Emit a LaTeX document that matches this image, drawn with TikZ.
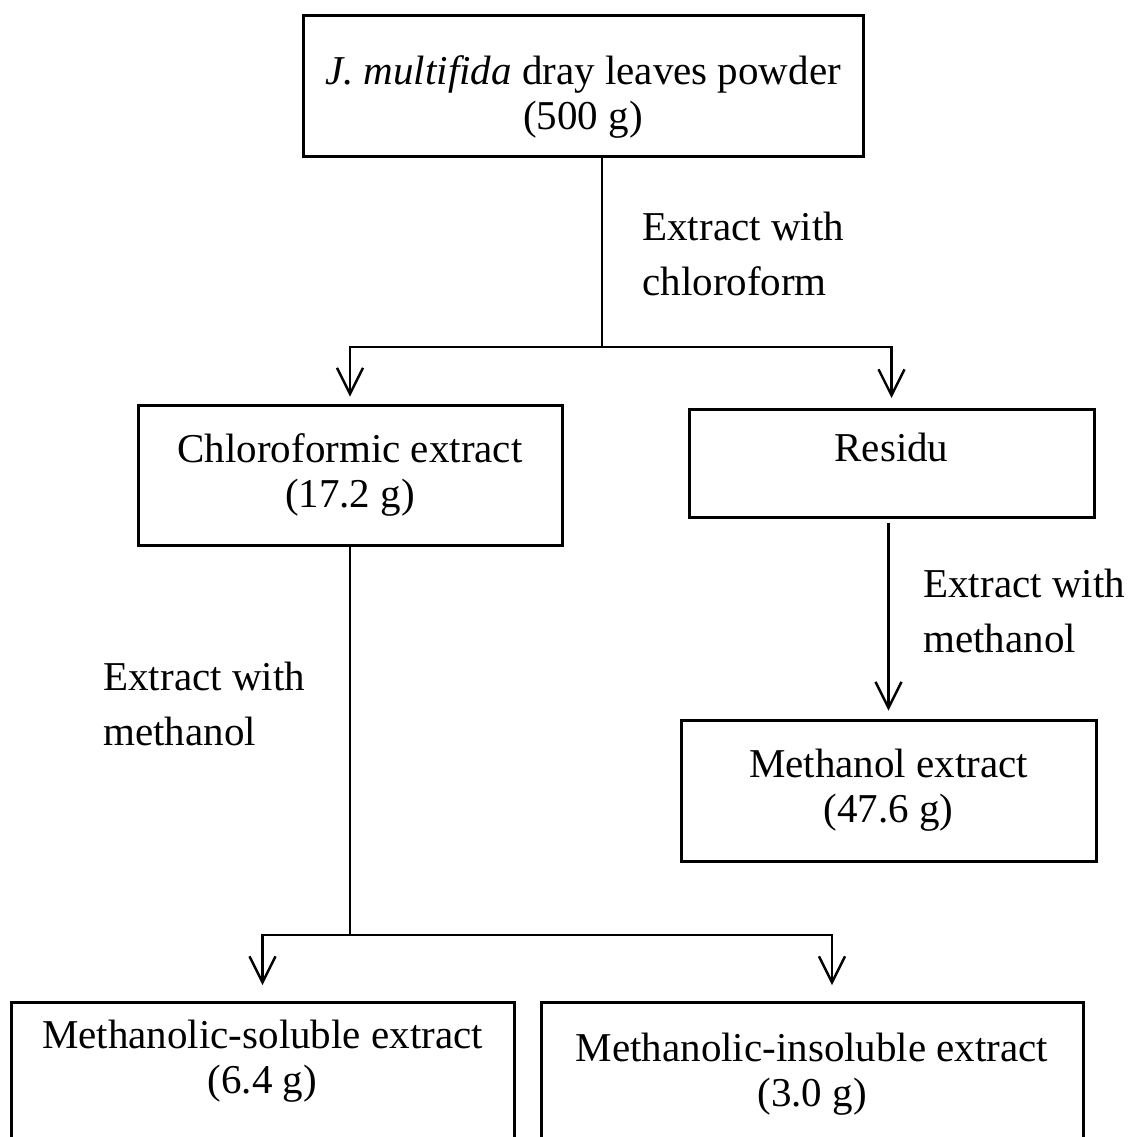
\documentclass[tikz,border=0pt]{standalone}
\usepackage{fontspec}
\setmainfont{Liberation Serif}
\usetikzlibrary{arrows.meta,positioning}

\begin{document}
\begin{tikzpicture}[x=0.5pt,y=-0.5pt,
  >={Straight Barb[length=13pt,width=13pt]},
  box/.style={draw,line width=1.5pt,align=center,inner sep=0pt,font=\fontsize{20.5}{22.5}\selectfont},
  txt/.style={align=center,inner sep=0pt,font=\fontsize{20.5}{22.5}\selectfont},
  lbl/.style={anchor=north west,align=left,inner sep=0pt,font=\fontsize{20.5}{27.5}\selectfont},
  conn/.style={line width=1.2pt}]
\useasboundingbox (0,0) rectangle (1132,1137);

\node[box,minimum width=280pt,minimum height=70.5pt] (powder) at (583,85.5) {};
\node[txt] (powdertxt) at (583,97) {\textit{J. multifida} dray leaves powder\\(500 g)};
\node[box,minimum width=212pt,minimum height=70pt] (chloro) at (350,475) {Chloroformic extract\\(17.2 g)};
\node[box,anchor=north,minimum width=202.5pt,text height=26pt,text depth=28pt] (residu) at (891.5,408) {Residu};
\node[box,minimum width=207.5pt,minimum height=70.5pt] (methext) at (888.5,790.5) {Methanol extract\\(47.6 g)};
\node[box,anchor=north,minimum width=251.5pt,minimum height=100pt] (soluble) at (262.5,1001) {};
\node[txt] (solubletxt) at (262.5,1061) {Methanolic-soluble extract\\(6.4 g)};
\node[box,anchor=north,minimum width=271pt,minimum height=100pt] (insoluble) at (812,1001) {};
\node[txt] (insolubletxt) at (812,1074) {Methanolic-insoluble extract\\(3.0 g)};

\node[lbl] (chlorolbl) at (642,212) {Extract with\\chloroform};
\node[lbl] (residulbl) at (923,569) {Extract with\\methanol};
\node[lbl] (chlorolbl2) at (103,662) {Extract with\\methanol};

\coordinate (split1) at (602,347);
\coordinate (split2) at (350,935);

\draw[conn] (split1 |- powder.south) -- (split1);
\draw[conn,->] (split1) -| ([yshift=3.5pt]chloro.north);
\draw[conn,->] (split1) -| ([yshift=5pt]residu.north);
\draw[conn,->] ([yshift=-2pt]residu.south -| methext.north) -- ([yshift=4pt]methext.north);
\draw[conn] (chloro.south) -- (split2);
\draw[conn,->] (split2) -| ([yshift=8pt]soluble.north);
\draw[conn,->] (split2) -| ([xshift=10pt,yshift=8pt]insoluble.north);
\end{tikzpicture}
\end{document}
